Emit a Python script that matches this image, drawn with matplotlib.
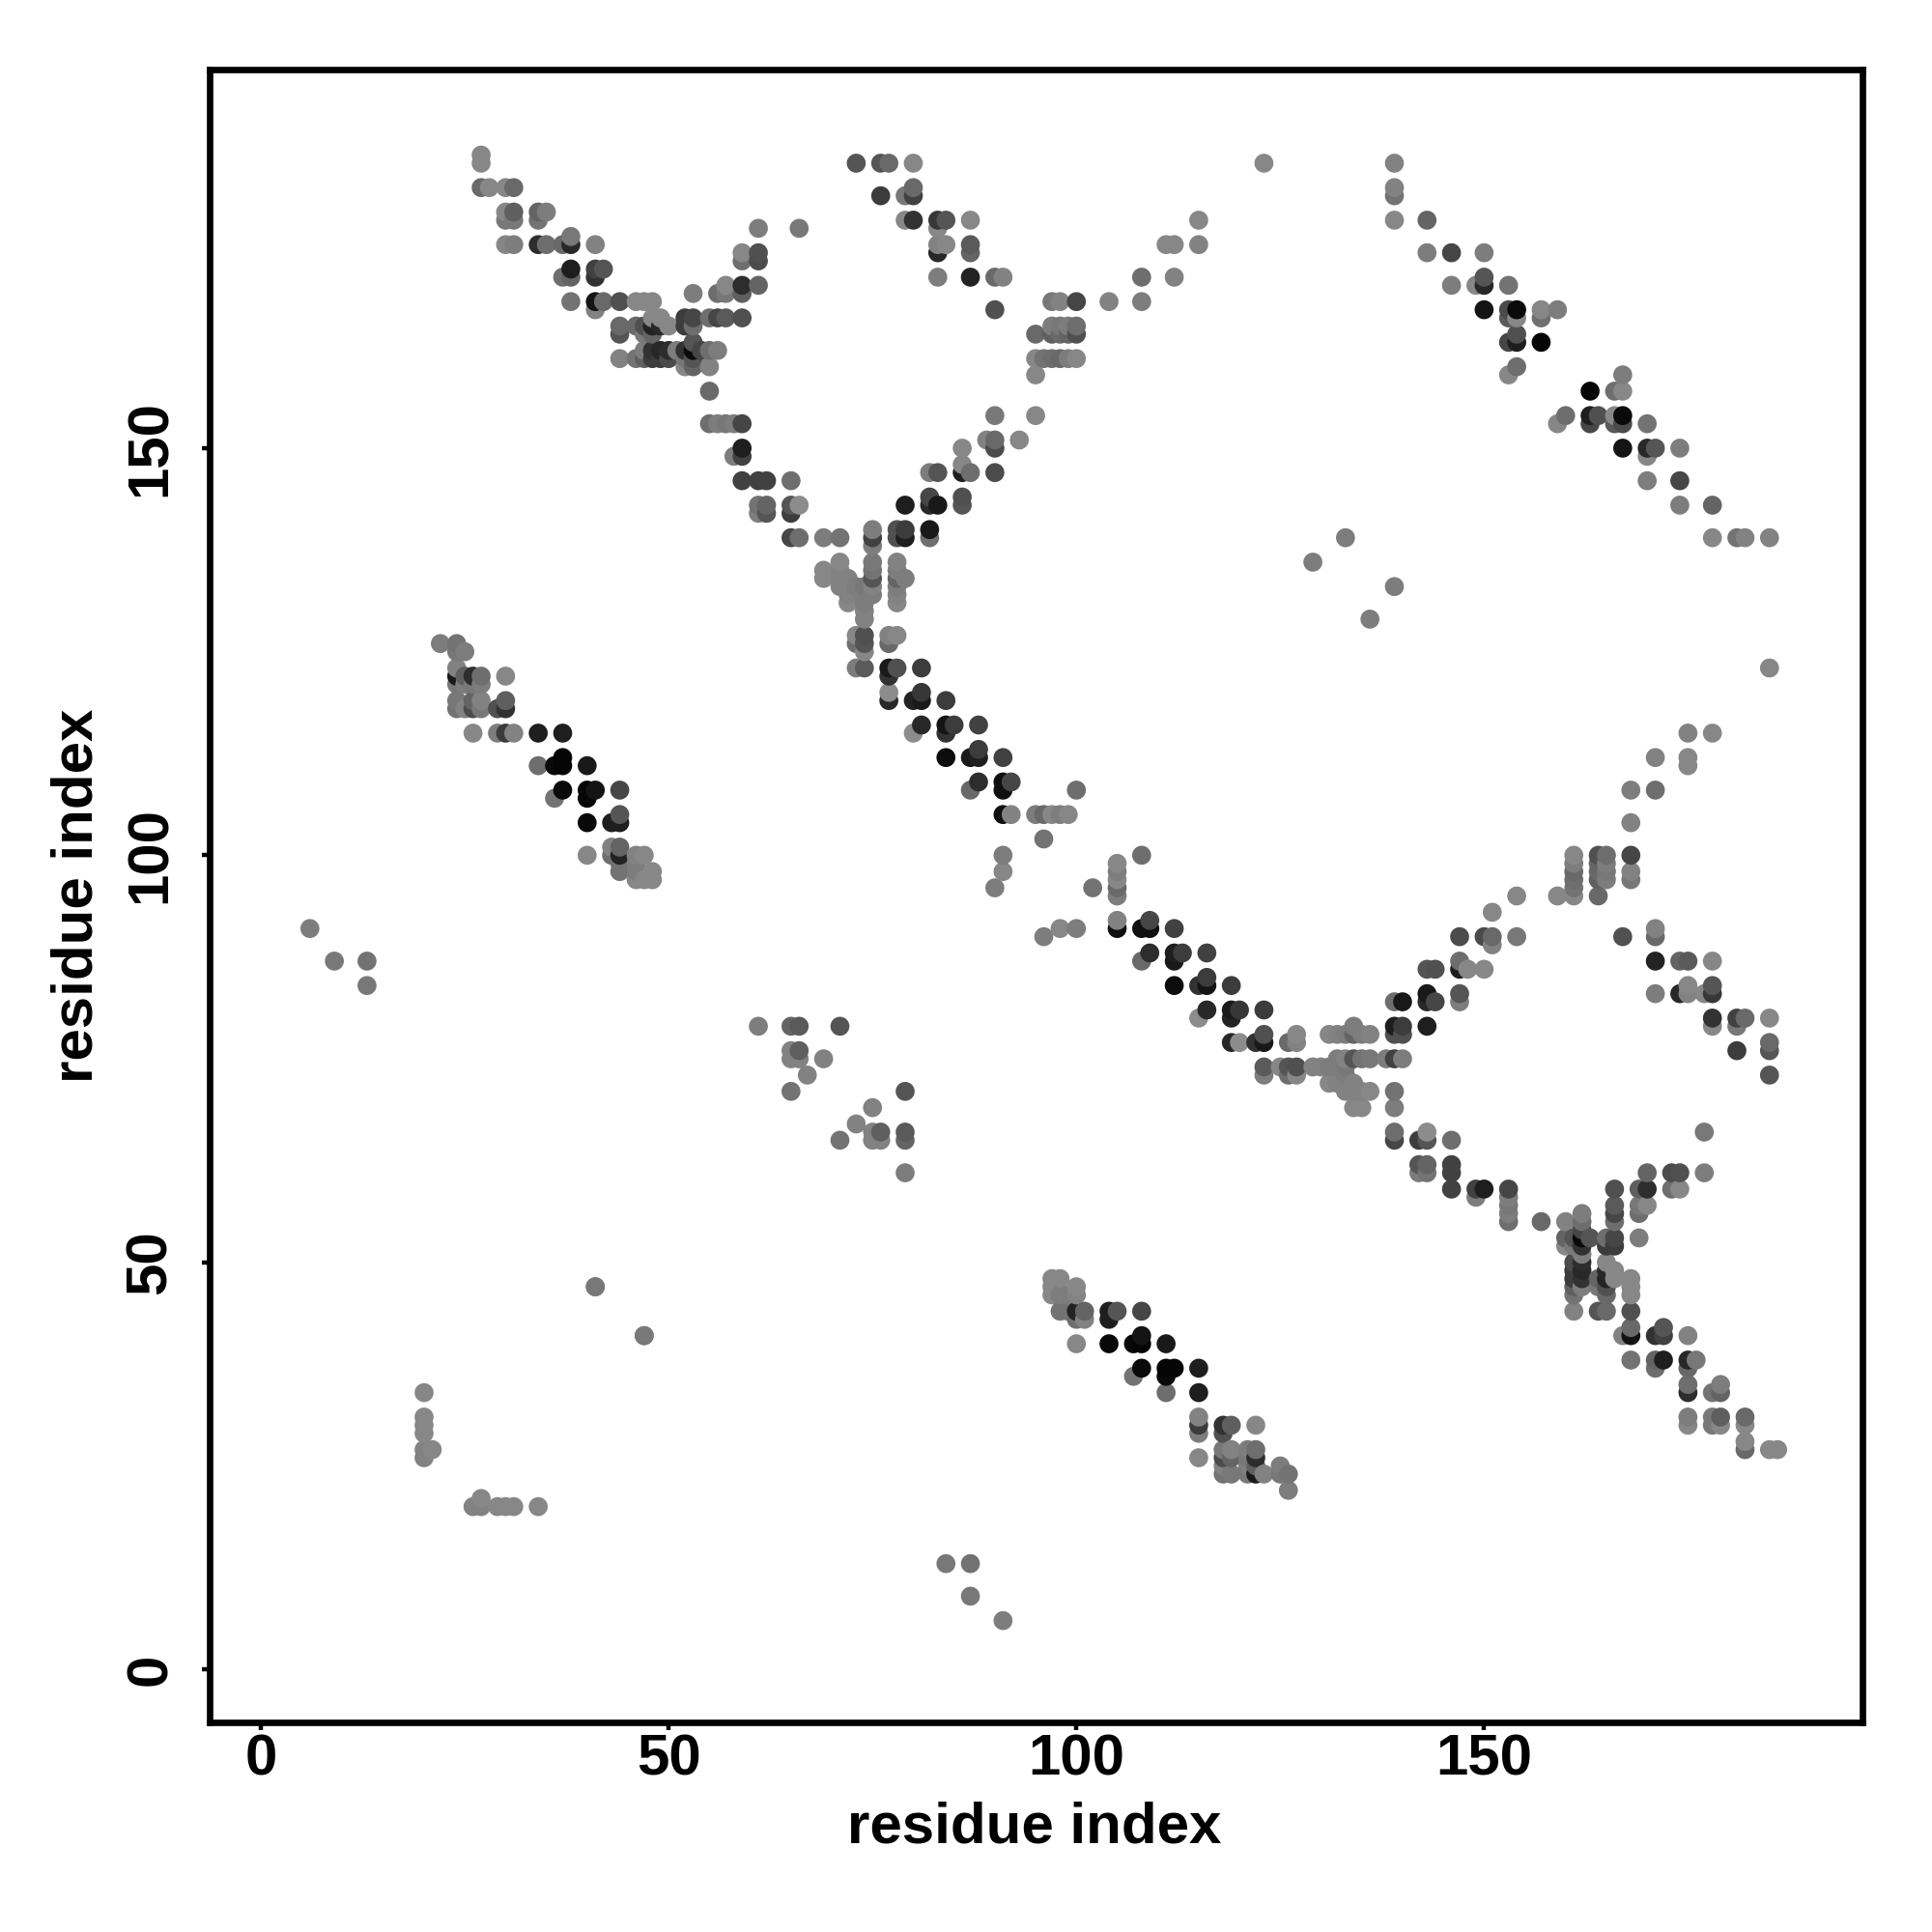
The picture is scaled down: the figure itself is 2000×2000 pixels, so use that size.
import numpy as np
import matplotlib
matplotlib.use("Agg")
import matplotlib.pyplot as plt

# (residue i, residue j, grey level 0-255) with i < j; the map is symmetric
arm_a = [(27,186,135),(27,185,135),(27,182,105),(28,182,135),(30,182,135),(31,182,105),
 (30,179,135),(31,179,95),(34,179,100),(35,179,125),(30,178,120),(31,178,120),(34,178,115),
 (30,175,135),(31,175,125),(34,175,45),(35,175,110),(37,175,105),(38,175,40),(38,176,120),(41,175,130),
 (38,172,30),(41,172,65),(42,172,85),(37,171,110),(38,171,100),(41,171,50),
 (38,168,115),(41,168,20),(42,168,105),(44,168,80),(46,168,135),(47,168,135),(48,168,135),(41,167,130),
 (53,169,125),(56,169,110),(57,169,120),(59,169,95),(57,170,135),(59,170,45),(61,170,100),
 (59,173,110),(59,174,135),(61,173,75),(61,174,80),(61,177,125),(66,177,120),
 (44,165,105),(44,164,85),(46,165,105),(47,165,80),(48,165,35),(49,165,40),(47,164,120),(48,164,100),
 (48,166,135),(49,166,135),(50,165,135),(52,166,60),(53,166,70),(52,165,60),(53,165,110),
 (55,166,110),(56,166,70),(57,166,90),(59,166,80),
 (47,162,125),(48,162,50),(49,162,40),(50,162,45),(51,162,125),(52,162,50),(53,162,10),(54,162,70),
 (55,162,110),(56,162,125),(53,163,85),
 (44,161,130),(46,161,115),(47,161,95),(48,161,60),(49,161,60),(50,161,75),(52,161,120),(53,161,85),
 (52,160,135),(53,160,100),(55,160,130),(55,157,105),
 (55,153,110),(56,153,125),(57,153,120),(58,153,125),(59,153,70)]

arm_b = [(59,150,30),(58,149,125),(59,149,65),(59,146,65),(61,146,65),(62,146,65),(65,146,110),
 (61,143,115),(62,143,100),(65,143,85),(66,143,140),(61,142,125),(62,142,85),(65,142,60),
 (65,139,70),(66,139,110),(69,139,125),(71,139,115),
 (75,140,125),(75,139,65),(75,138,125),(78,139,80),(79,139,30),(79,140,60),(78,140,80),(82,140,25),(82,139,110),
 (79,143,30),(83,143,25),(82,143,40),(82,144,70),(86,143,85),(86,144,80),
 (82,147,125),(83,147,85),(86,147,30),(86,148,135),(87,147,110),(90,147,75),(86,150,135),
 (89,151,130),(90,151,105),(90,150,75),(93,151,135),(90,154,120),(95,154,135)]

cluster = [(69,134,135),(69,135,135),(71,133,130),(71,134,130),(71,135,130),(71,136,135),
 (72,131,135),(72,132,130),(72,133,130),(72,134,130),(73,133,125),
 (74,129,130),(74,130,130),(74,131,125),(74,132,125),(74,133,120),
 (75,132,125),(75,133,130),(75,134,85),(75,135,115),(75,136,120),
 (78,131,135),(78,132,130),(78,133,125),(78,134,100),(78,135,125),(78,136,130),(79,134,125),
 (73,127,135),(73,126,110),(74,127,80),(74,126,85),(74,125,135),(77,127,130),(77,126,105),(78,127,135)]

arm_c = [(73,123,125),(74,123,90),(77,123,25),(77,122,50),(78,123,80),(81,123,60),
 (77,120,140),(77,119,40),(80,119,35),(81,119,25),(81,120,55),(84,119,60),
 (81,116,40),(84,116,20),(85,116,60),(88,116,65),(80,115,140),(84,115,50),
 (84,112,12),(87,112,25),(88,112,30),(88,113,60),(91,112,65),
 (88,109,45),(91,109,15),(92,109,70),(87,108,105),(91,108,15),(100,108,110),
 (91,105,15),(92,105,130),(95,105,125),(96,105,105),(97,105,135),(98,105,125),(99,105,135),
 (96,102,115),(91,100,125),(91,98,135),(90,96,125)]

arm_d = [(73,185,85),(76,185,85),(77,185,105),(80,185,135),(123,185,135),
 (76,181,60),(79,181,120),(80,181,65),(80,182,105),
 (79,178,135),(80,178,50),(83,178,55),(84,178,85),(87,178,135),(83,177,135),(115,178,135),
 (83,175,130),(84,175,135),(83,174,40),(87,175,90),(87,174,100),(111,175,135),(112,175,135),(115,175,130),
 (83,171,125),(87,171,35),(90,171,105),(91,171,130),(108,171,110),(112,171,130),
 (97,168,120),(98,168,130),(100,168,70),(104,168,130),(108,168,125),(90,167,80),
 (95,164,105),(97,164,95),(98,164,105),(99,164,100),(100,164,80),
 (97,165,125),(98,165,120),(99,165,125),(100,165,110),
 (95,161,135),(96,161,115),(97,161,110),(98,161,105),(99,161,125),(100,161,135),(95,159,135)]

block = [(22,126,125),(24,126,115),(25,125,125),(24,125,120),
 (24,123,130),(24,122,25),(25,122,95),(26,122,45),(27,122,110),(30,122,135),
 (24,121,120),(25,121,125),(26,121,120),(27,121,125),
 (24,119,120),(26,119,100),(27,119,130),(30,119,95),(24,118,115),(25,118,130),(26,118,75),(27,118,120),
 (29,118,80),(30,118,50),
 (26,115,135),(29,115,125),(30,115,60),(31,115,130),(34,115,30),(37,115,30),
 (34,111,110),(36,111,10),(37,111,5),(37,112,5),(40,111,25),
 (37,108,10),(40,108,5),(41,108,20),(44,108,70),(36,107,115),(40,107,8),
 (40,104,8),(43,104,30),(44,104,30),(44,105,85),
 (40,100,135),(43,100,110),(43,101,130),(44,101,100),(44,100,35),(44,99,115),(44,98,115),
 (46,100,130),(47,100,135),(46,99,125),(46,98,125),(48,98,135),(46,97,135),(47,97,135),(48,97,135)]

arm_e = [(139,185,130),(139,182,130),(139,181,115),(139,178,135),(143,178,100),(143,174,125),(146,174,70),(150,174,125),
 (146,170,125),(149,170,135),(150,170,40),(150,171,85),(153,170,115),
 (150,167,20),(153,167,75),(154,167,10),(153,166,90),(154,166,135),(157,167,135),(159,167,125),(157,166,110),
 (153,163,70),(154,163,30),(154,164,80),(157,163,5),(153,159,135),(154,160,110)]

near_diag = [(61,79,125),(65,79,100),(66,79,90),(71,79,85),(65,76,130),(66,76,95),(65,75,130),(66,75,130),
 (69,75,130),(67,73,130),(65,71,115)]

sparse = [(6,91,125),(9,87,120),(13,87,115),(13,84,120),(41,47,120),(47,41,120),
 (20,34,135),(20,31,135),(20,30,135),(20,29,135),(20,27,130),(20,26,130),(21,27,135),
 (129,136,125),(133,139,125)]

x_ticks = [0, 50, 100, 150]
y_ticks = [0, 50, 100, 150]
x_title = "residue index"
y_title = "residue index"

contacts = np.array(arm_a + arm_b + cluster + arm_c + arm_d + block + arm_e + near_diag + sparse, dtype=float)
xs = np.r_[contacts[:, 0], contacts[:, 1]]
ys = np.r_[contacts[:, 1], contacts[:, 0]]
gs = np.r_[contacts[:, 2], contacts[:, 2]]
order = np.lexsort((ys, xs))
xs, ys, gs = xs[order], ys[order], gs[order]
colors = [(g / 255, g / 255, g / 255) for g in gs]

plt.rcParams['font.family'] = ['Liberation Sans', 'DejaVu Sans']
plt.rcParams['font.weight'] = 'bold'
fig = plt.figure(figsize=(10, 10), dpi=200)
ax = fig.add_axes([217 / 2000, 1 - 1783 / 2000, (1928 - 217) / 2000, (1783 - 72) / 2000])
ax.scatter(xs, ys, s=50, c=colors, linewidths=0, zorder=3)
ax.set_xlim(-6.3, 196.4)
ax.set_ylim(-6.5, 196.5)
ax.set_xticks(x_ticks)
ax.set_yticks(y_ticks)
ax.tick_params(axis='both', length=3, width=1.6, labelsize=21.6)
ax.tick_params(axis='x', pad=1)
ax.tick_params(axis='y', pad=9)
for t in ax.get_yticklabels():
    t.set_rotation(90)
    t.set_va('center')
for sp in ax.spines.values():
    sp.set_linewidth(2.4)
fig.text(1071 / 2000, 1 - 1892 / 2000, x_title, ha='center', va='center', fontsize=21.6, fontweight='bold')
fig.text(80 / 2000, 1 - 927 / 2000, y_title, ha='center', va='center', rotation=90, fontsize=21.6, fontweight='bold')
fig.savefig('out.png', dpi=200, facecolor='white')
